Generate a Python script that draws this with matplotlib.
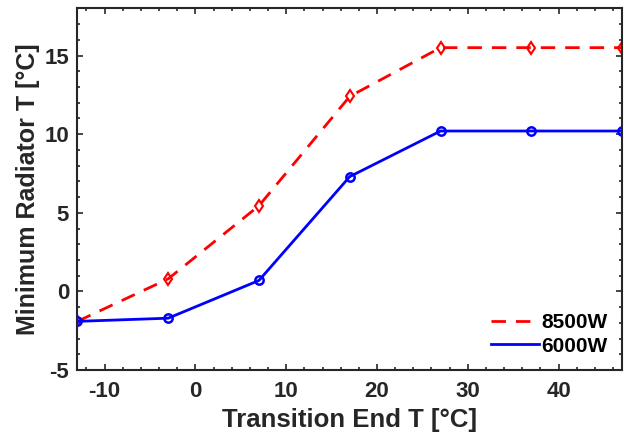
import numpy as np
import matplotlib.pyplot as plt
from matplotlib.ticker import MultipleLocator

plt.rcParams['font.family'] = ['Liberation Sans', 'DejaVu Sans']
plt.rcParams['font.weight'] = 'bold'
plt.rcParams['axes.labelweight'] = 'bold'
plt.rcParams['axes.unicode_minus'] = False

trans_end = [-13, -3, 7, 17, 27, 37, 47]
t_8500 = [-1.9, 0.8, 5.45, 12.4, 15.5, 15.5, 15.5]
t_6000 = [-1.9, -1.7, 0.7, 7.3, 10.2, 10.2, 10.2]

gray = '#262626'

fig = plt.figure(figsize=(6.24, 4.38), dpi=100)
ax = fig.add_axes([0.124, 0.155, 0.873, 0.826])

ax.plot(trans_end, t_8500, color='red', lw=2, dashes=(5.2, 3.6), marker='d',
        ms=6, mfc='none', mew=1.5, label='8500W')
ax.plot(trans_end, t_6000, color='blue', lw=2, marker='o',
        ms=6, mfc='none', mew=1.8, label='6000W')

ax.set_xlim(-13, 47)
ax.set_ylim(-5, 18)
ax.xaxis.set_major_locator(MultipleLocator(10))
ax.xaxis.set_minor_locator(MultipleLocator(2))
ax.yaxis.set_major_locator(MultipleLocator(5))
ax.yaxis.set_minor_locator(MultipleLocator(1))
ax.tick_params(which='both', direction='in', top=True, right=True,
               width=1.2, colors=gray, labelsize=16)
ax.tick_params(axis='x', pad=8)
ax.tick_params(axis='y', pad=6)
ax.tick_params(which='major', length=4)
ax.tick_params(which='minor', length=2.5)
for s in ax.spines.values():
    s.set_linewidth(1.5)
    s.set_color(gray)

ax.set_xlabel('Transition End T [\u00b0C]', fontsize=18.5, color=gray, labelpad=4)
ax.set_ylabel('Minimum Radiator T [\u00b0C]', fontsize=18, color=gray, labelpad=3)

leg = ax.legend(loc='lower right', frameon=False, fontsize=15, handlelength=2.3,
                handletextpad=0.1, labelspacing=0.2, borderaxespad=0.3,
                bbox_to_anchor=(1.0, 0.0), labelcolor='black')
for h in leg.legend_handles:
    h.set_marker('')

fig.savefig('out.png', dpi=100)
